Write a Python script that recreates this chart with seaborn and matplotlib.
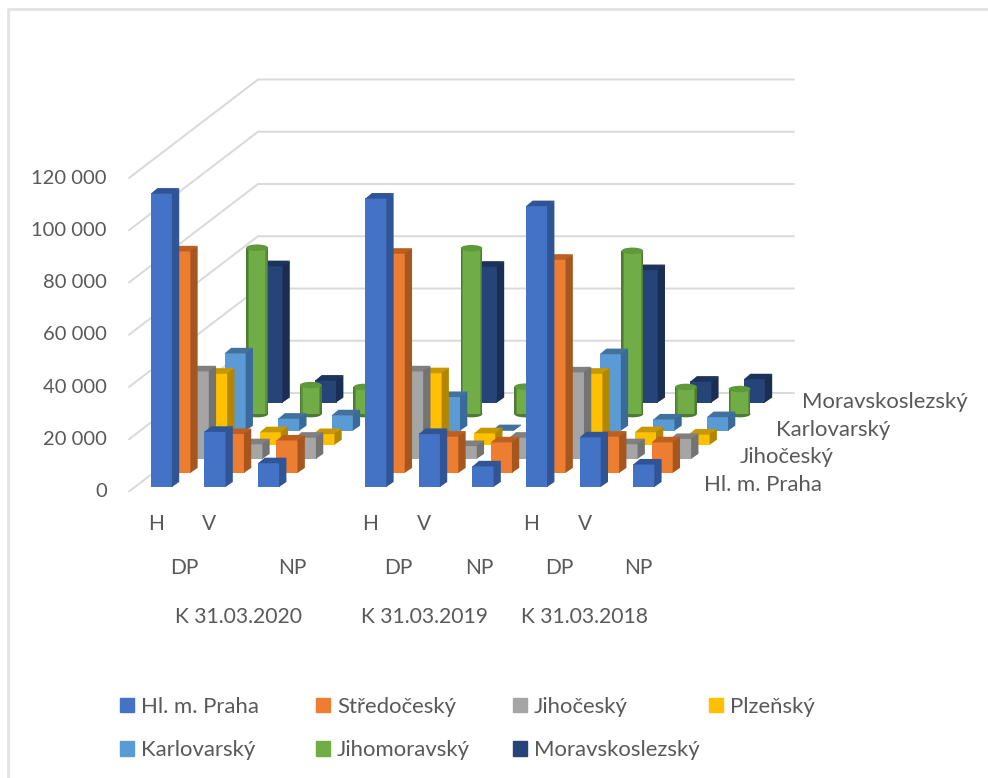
import numpy as np
import pandas as pd
import matplotlib
matplotlib.use('Agg')
import matplotlib.pyplot as plt
from matplotlib.patches import Ellipse, Patch
from matplotlib.lines import Line2D
from matplotlib.transforms import ScaledTranslation
import seaborn as sns

# order of the bars in each region: H, V, NP for 2020, then 2019, then 2018
regions = ['Hl. m. Praha', 'Středočeský', 'Jihočeský', 'Plzeňský',
           'Karlovarský', 'Jihomoravský', 'Moravskoslezský']
praha = [112500, 21300, 9300, 110600, 20500, 8100, 107700, 19200, 8800]
stredocesky = [85000, 15100, 12600, 84100, 14100, 11900, 81800, 14100, 11900]
jihocesky = [33700, 5800, 8300, 33700, 5100, 8300, 33300, 5800, 7800]
plzensky = [27400, 5000, 4300, 27600, 4600, 4200, 27400, 5000, 4100]
karlovarsky = [29800, 4800, 6100, 13100, 400, 5500, 29500, 4500, 5400]
jihomoravsky = [63700, 11100, 10400, 63500, 10500, 10000, 62500, 10400, 9600]
moravskoslezsky = [52400, 8600, 8500, 52200, 8300, 8700, 50900, 8200, 9100]
region_values = [praha, stredocesky, jihocesky, plzensky, karlovarsky, jihomoravsky, moravskoslezsky]

y_ticks = [0, 20000, 40000, 60000, 80000, 100000, 120000]
row1_labels = ['H', 'V', 'H', 'V', 'H', 'V']
row2_labels = ['DP', 'NP', 'DP', 'NP', 'DP', 'NP']
group_labels = ['K 31.03.2020', 'K 31.03.2019', 'K 31.03.2018']

colors = ['#4472C4', '#ED7D31', '#A5A5A5', '#FFC000', '#5B9BD5', '#70AD47', '#264478']
side_colors = ['#2F5597', '#A5571F', '#737373', '#B38600', '#3A6A99', '#4E7A31', '#192E52']
top_colors = ['#2F5597', '#BE5E1F', '#808080', '#C89800', '#41719C', '#5F9A3A', '#1C335C']

# layout, the plane is 10 slots wide and the depth runs up to the right
slots = [0, 1, 2, 4, 5, 6, 7, 8, 9]
row1_pos = [0.5, 1.5, 4.5, 5.5, 7.5, 8.5]
row2_pos = [1.03, 3.04, 5.02, 6.53, 8.02, 9.51]
group_pos = [2.05, 5.52, 8.5]
depth_label_x = [10.73, 11.4, 12.07, 12.56]
depth_label_idx = [0, 2, 4, 6]

W, H = 988, 778
left, right, floor, top120 = 129, 665, 491.5, 178
px_x = (right - left) / 10            # pixels per slot
px_y = (floor - top120) / 120000      # pixels per unit
wall_dx = 129 / px_x
wall_dy = 98.5 / px_y
cell_dx = wall_dx / 7
cell_dy = wall_dy / 7
bar_w = 21.7 / px_x
bar_dx = 6.7 / px_x
bar_dy = 5 / px_y
seam_x = 0.6 / px_x   # small overlap so no white seam shows between faces
seam_y = 0.6 / px_y

sns.set_theme(style='white')
plt.rcParams['font.family'] = ['Lato', 'DejaVu Sans']
text_color = '#595959'

fig = plt.figure(figsize=(W / 100, H / 100), dpi=100, facecolor='white')
ax = fig.add_axes([left / W, 1 - floor / H, (right - left) / W, (floor - top120) / H])

# frame of the chart, only top and left show in the crop
fig.add_artist(Line2D([8 / W, 8 / W, 1], [0, 1 - 9 / H, 1 - 9 / H], color='#E3E3E3', lw=2))

# walls
for v in y_ticks:
    ax.plot([0, wall_dx, 10 + wall_dx], [v, v + wall_dy, v + wall_dy],
            color='#D9D9D9', lw=1.4, clip_on=False, zorder=1, solid_joinstyle='miter')

# back rows first so that the front rows cover them
for d in range(6, -1, -1):
    z = 10 + (6 - d)
    x_off = (cell_dx - bar_dx) / 2 + d * cell_dx
    base = (cell_dy - bar_dy) / 2 + d * cell_dy
    vals = np.array(region_values[d], dtype=float)
    pos = np.array(slots) + 0.5 + x_off
    df = pd.DataFrame({'pos': pos, 'value': vals})
    if regions[d] == 'Jihomoravský':
        # this series is drawn as cylinders
        cx = pos + bar_dx / 2
        cy = base + bar_dy / 2
        e_h = 6.5 / px_y
        for c, v in zip(cx, vals):
            ax.add_patch(Ellipse((c, cy), bar_w, e_h, fc=side_colors[d], ec='none', lw=0, clip_on=False, zorder=z))
        sns.barplot(data=pd.DataFrame({'pos': cx, 'value': vals}), x='pos', y='value', native_scale=True,
                    width=bar_w, color=colors[d], saturation=1, bottom=cy, ax=ax, clip_on=False, zorder=z,
                    edgecolor='none', linewidth=0)
        for frac, shade in [(0.12, '#5C9239'), (0.06, '#4E7A31')]:
            for c, v in zip(cx, vals):
                w = bar_w * frac
                ax.bar([c - bar_w / 2 + w / 2, c + bar_w / 2 - w / 2], [v, v], w * 1.02, bottom=cy,
                       color=shade, edgecolor='none', linewidth=0, clip_on=False, zorder=z)
        for c, v in zip(cx, vals):
            ax.add_patch(Ellipse((c, cy + v), bar_w, e_h, fc=top_colors[d], ec='none', lw=0, clip_on=False, zorder=z))
    else:
        sns.barplot(data=df, x='pos', y='value', native_scale=True, width=bar_w, color=colors[d],
                    saturation=1, bottom=base, ax=ax, clip_on=False, zorder=z, edgecolor='none', linewidth=0)
        for p, v in zip(pos, vals):
            x0, x1 = p - bar_w / 2, p + bar_w / 2
            # top face
            ax.fill([x0, x1, x1 + bar_dx, x0 + bar_dx],
                    [base + v - seam_y, base + v - seam_y, base + bar_dy + v, base + bar_dy + v],
                    facecolor=top_colors[d], edgecolor='none', lw=0, clip_on=False, zorder=z)
            # right face
            ax.fill([x1 - seam_x, x1 + bar_dx, x1 + bar_dx, x1 - seam_x],
                    [base, base + bar_dy, base + bar_dy + v, base + v],
                    facecolor=side_colors[d], edgecolor='none', lw=0, clip_on=False, zorder=z)

ax.set_xlim(0, 10)
ax.set_ylim(0, 120000)
ax.set_xlabel('')
ax.set_ylabel('')
sns.despine(ax=ax, left=True, bottom=True)
ax.patch.set_alpha(0)

ax.set_yticks(y_ticks)
ax.set_yticklabels([f'{v:,}'.replace(',', '\u00a0') for v in y_ticks])
ax.tick_params(axis='y', length=0, pad=16, labelsize=14.5, labelcolor=text_color)
for t in ax.get_yticklabels():
    t.set_transform(t.get_transform() + ScaledTranslation(0, 1 / 72, fig.dpi_scale_trans))

ax.set_xticks(row1_pos)
ax.set_xticklabels(row1_labels)
ax.set_xticks(row2_pos, minor=True)
ax.set_xticklabels(row2_labels, minor=True)
ax.tick_params(axis='x', which='major', length=0, pad=16, labelsize=15, labelcolor=text_color)
ax.tick_params(axis='x', which='minor', length=0, pad=48, labelsize=15, labelcolor=text_color)

sec = ax.secondary_xaxis('bottom')
sec.set_xticks(group_pos)
sec.set_xticklabels(group_labels)
sec.tick_params(axis='x', length=0, pad=83, labelsize=15.2, labelcolor=text_color)
sec.spines['bottom'].set_visible(False)

# labels of the depth axis
for i, x in zip(depth_label_idx, depth_label_x):
    y = (floor - (485 - i * 13.8)) / px_y
    ax.text(x, y, regions[i], ha='left', va='center', fontsize=15.9, color=text_color, clip_on=False)

# legend, one block per column so the columns stay evenly spaced
columns = [(0, 4), (1, 5), (2, 6), (3,)]
col_x = [120, 316, 513, 709]
for idx, x in zip(columns, col_x):
    handles = [Patch(color=colors[i], label=regions[i]) for i in idx]
    fig.legend(handles=handles, loc='upper left', bbox_to_anchor=(x / W, 1 - 697 / H), frameon=False,
               fontsize=15.9, labelcolor=text_color, handlelength=0.63, handleheight=0.63, handletextpad=0.32,
               labelspacing=1.05, borderpad=0, borderaxespad=0)

fig.savefig('out.png', dpi=100)
